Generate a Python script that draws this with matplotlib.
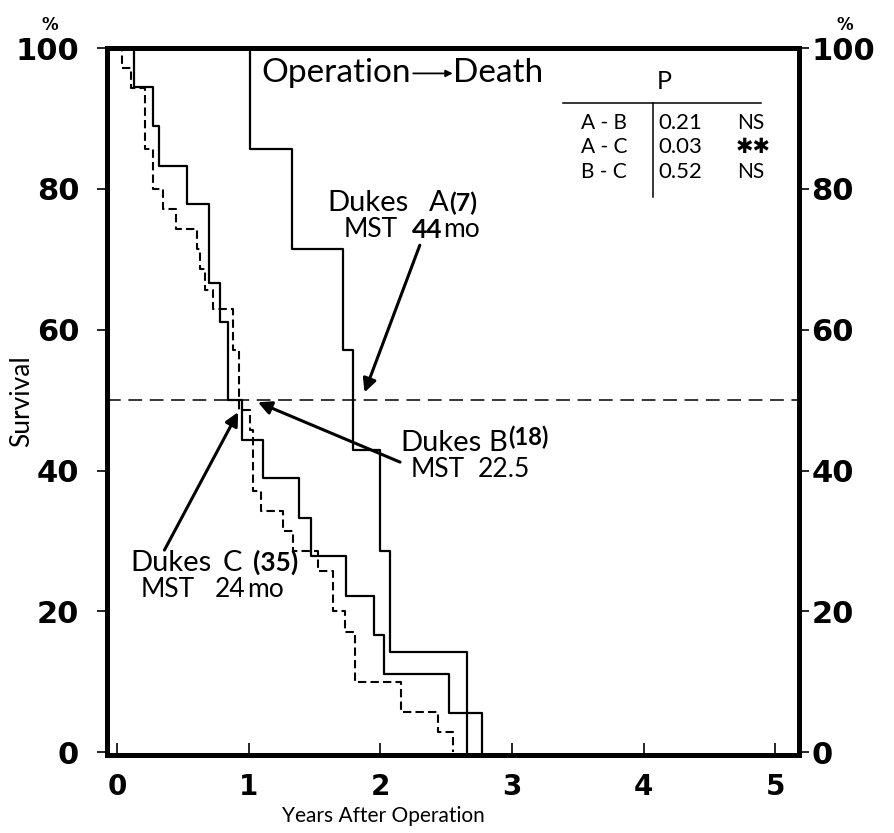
import matplotlib
matplotlib.use("Agg")
import matplotlib.pyplot as plt

# survival step data (years, % surviving)
a_years = [0, 1.01, 1.33, 1.72, 1.79, 2.00, 2.07, 2.66]
a_surv = [100, 85.7, 71.4, 57.1, 42.9, 28.6, 14.3, 0]

b_years = [0, 0.13, 0.27, 0.32, 0.53, 0.70, 0.78, 0.84, 0.95, 1.11, 1.38, 1.47,
           1.74, 1.95, 2.03, 2.52, 2.77]
b_surv = [100, 94.4, 88.9, 83.3, 77.8, 66.7, 61.1, 50.0, 44.4, 38.9, 33.3, 27.8,
          22.2, 16.7, 11.1, 5.6, 0]

c_years = [0, 0.04, 0.11, 0.21, 0.27, 0.35, 0.45, 0.61, 0.63, 0.67, 0.73, 0.88,
           0.93, 1.01, 1.03, 1.09, 1.26, 1.34, 1.53, 1.64, 1.73, 1.81, 2.16, 2.44, 2.55]
c_surv = [100, 97.1, 94.3, 85.7, 80.0, 77.1, 74.3, 71.4, 68.6, 65.7, 62.9, 57.1,
          48.6, 45.7, 37.1, 34.3, 31.4, 28.6, 25.7, 20.0, 17.1, 10.0, 5.7, 2.9, 0]

x_ticks = [0, 1, 2, 3, 4, 5]
y_ticks = [0, 20, 40, 60, 80, 100]
median_line = 50

pairs = ["A - B", "A - C", "B - C"]
p_vals = ["0.21", "0.03", "0.52"]
signif = ["NS", "✱✱", "NS"]

txt_font = ["Lato", "DejaVu Sans"]

fig = plt.figure(figsize=(8.94, 8.33), dpi=100)
ax = fig.add_axes([0.1197, 0.0936, 0.774, 0.8487])

ax.step(a_years, a_surv, where="post", color="black", lw=1.6)
ax.step(b_years, b_surv, where="post", color="black", lw=1.6)
ax.step(c_years, c_surv, where="post", color="black", lw=1.5, ls=(0, (4, 2)))
ax.axhline(median_line, color="black", lw=1.1, ls=(0, (9, 5)))

ax.set_xlim(-0.076, 5.18)
ax.set_ylim(-0.4, 100)

for s in ax.spines.values():
    s.set_linewidth(3.6)

ax.set_xticks(x_ticks)
ax.set_xticklabels([str(v) for v in x_ticks], fontsize=20, fontweight="bold")
ax.set_yticks(y_ticks)
ax.set_yticklabels([str(v) for v in y_ticks], fontsize=22, fontweight="bold")
ax.tick_params(axis="x", direction="in", length=9, width=1.2, pad=13)
ax.tick_params(axis="y", direction="out", length=7, width=1.2, pad=13)

# right-hand copy of the survival scale
ax2 = ax.twinx()
ax2.set_ylim(ax.get_ylim())
ax2.set_yticks(y_ticks)
ax2.set_yticklabels([str(v) for v in y_ticks], fontsize=22, fontweight="bold")
ax2.tick_params(axis="y", direction="out", length=7, width=1.2, pad=2)
for s in ax2.spines.values():
    s.set_visible(False)

ax.text(-0.51, 102.6, "%", fontsize=12, fontweight="bold", ha="center")
ax.text(5.53, 102.6, "%", fontsize=12, fontweight="bold", ha="center")

ax.set_ylabel("Survival", fontsize=19, family=txt_font)
ax.yaxis.set_label_coords(-0.105, 0.5)
ax.set_xlabel("Years After Operation", fontsize=15, family=txt_font)
ax.xaxis.set_label_coords(0.40, -0.072)

# header
ax.text(1.10, 96.4, "Operation", fontsize=24, family=txt_font, va="center")
ax.annotate("", xy=(2.55, 96.4), xytext=(2.25, 96.4),
            arrowprops=dict(arrowstyle="-|>", color="black", lw=1.3,
                            mutation_scale=10, shrinkA=0, shrinkB=0))
ax.text(2.55, 96.4, "Death", fontsize=24, family=txt_font, va="center")

# p-value table
ax.text(4.16, 95.2, "P", fontsize=18, family=txt_font, ha="center", va="center")
ax.plot([3.39, 4.89], [92.2, 92.2], color="black", lw=1.1)
ax.plot([4.07, 4.07], [92.2, 78.8], color="black", lw=1.1)
for i in range(len(pairs)):
    yy = 89.4 - 3.5 * i
    ax.text(3.70, yy, pairs[i], fontsize=15, family=txt_font, ha="center", va="center")
    ax.text(4.11, yy, p_vals[i], fontsize=16, family=txt_font, ha="left", va="center")
    if signif[i] == "NS":
        ax.text(4.71, yy, signif[i], fontsize=15, family=txt_font, ha="left", va="center")
    else:
        ax.text(4.70, yy, signif[i], fontsize=15, family=["DejaVu Sans"],
                fontweight="bold", ha="left", va="center")

# group labels
ax.text(1.60, 78.0, "Dukes", fontsize=21, family=txt_font, va="center")
ax.text(2.37, 78.0, "A", fontsize=21, family=txt_font, va="center")
ax.text(2.52, 78.0, "(7)", fontsize=18, family=txt_font, fontweight="bold", va="center")
ax.text(1.72, 74.2, "MST", fontsize=19, family=txt_font, va="center")
ax.text(2.24, 74.2, "44", fontsize=19, family=txt_font, fontweight="bold", va="center")
ax.text(2.48, 74.2, "mo", fontsize=19, family=txt_font, va="center")

ax.text(2.15, 43.9, "Dukes", fontsize=21, family=txt_font, va="center")
ax.text(2.82, 43.9, "B", fontsize=21, family=txt_font, va="center")
ax.text(2.97, 44.7, "(18)", fontsize=17, family=txt_font, fontweight="bold", va="center")
ax.text(2.23, 40.1, "MST", fontsize=19, family=txt_font, va="center")
ax.text(2.74, 40.1, "22.5", fontsize=19, family=txt_font, va="center")

ax.text(0.10, 26.9, "Dukes", fontsize=21, family=txt_font, va="center")
ax.text(0.80, 26.9, "C", fontsize=21, family=txt_font, va="center")
ax.text(1.03, 26.9, "(35)", fontsize=19, family=txt_font, fontweight="bold", va="center")
ax.text(0.18, 23.1, "MST", fontsize=19, family=txt_font, va="center")
ax.text(0.74, 23.1, "24", fontsize=19, family=txt_font, va="center")
ax.text(0.99, 23.1, "mo", fontsize=19, family=txt_font, va="center")

arrow_kw = dict(arrowstyle="-|>", color="black", lw=2.2, mutation_scale=20,
                shrinkA=0, shrinkB=0)
ax.annotate("", xy=(1.88, 51.1), xytext=(2.30, 72.0), arrowprops=arrow_kw)
ax.annotate("", xy=(1.07, 49.7), xytext=(2.15, 41.2), arrowprops=arrow_kw)
ax.annotate("", xy=(0.92, 48.3), xytext=(0.36, 28.7), arrowprops=arrow_kw)

fig.savefig("out.png", dpi=100)
